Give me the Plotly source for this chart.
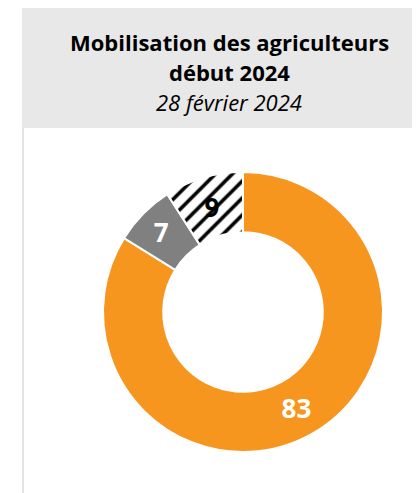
import plotly.graph_objects as go

labels = ["Mobilisés", "Autre", "Non renseigné"]
values = [83, 7, 9]
colors = ["#F7961F", "#808080", "#FFFFFF"]
text_colors = ["white", "white", "black"]
patterns = ["", "", "/"]

W, H = 420, 493
OFF = 8  # page body margin


def px_x(x):
    return (x - OFF) / W


def px_y(y):
    return 1 - (y - OFF) / H


fig = go.Figure(go.Pie(
    labels=labels,
    values=values,
    text=[str(v) for v in values],
    textinfo="text",
    textposition="inside",
    insidetextorientation="horizontal",
    insidetextfont=dict(family="Open Sans", size=26, color=text_colors, weight="bold"),
    hole=0.57,
    sort=False,
    direction="clockwise",
    rotation=0,
    marker=dict(colors=colors,
                line=dict(color="white", width=2),
                pattern=dict(shape=patterns, fgcolor="black", bgcolor="white",
                             size=12, solidity=0.3)),
    domain=dict(x=[px_x(103), px_x(383)], y=[px_y(452), px_y(172)]),
    showlegend=False,
))

# header box and left rule
fig.add_shape(type="rect", xref="paper", yref="paper",
              x0=px_x(22), x1=1, y0=px_y(128), y1=px_y(8),
              fillcolor="#E8E8E8", line_width=0, layer="below")
fig.add_shape(type="line", xref="paper", yref="paper",
              x0=px_x(23), x1=px_x(23), y0=0, y1=px_y(128),
              line=dict(color="#E4E4E4", width=2))

for txt, y in [("<b>Mobilisation des agriculteurs</b>", 42),
               ("<b>début 2024</b>", 72),
               ("<i>28 février 2024</i>", 102)]:
    fig.add_annotation(x=px_x(229), y=px_y(y), xref="paper", yref="paper",
                       xanchor="center", yanchor="middle",
                       text=txt, showarrow=False,
                       font=dict(family="Open Sans", size=22, color="black"))

fig.update_layout(width=W, height=H, margin=dict(l=0, r=0, t=0, b=0),
                  paper_bgcolor="white", plot_bgcolor="white",
                  uniformtext=dict(minsize=26, mode="show"))

fig.write_html("out.html")
